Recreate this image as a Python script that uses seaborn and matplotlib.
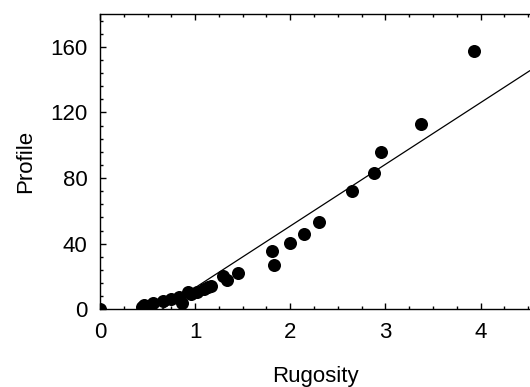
import matplotlib
matplotlib.use("Agg")
import matplotlib.pyplot as plt
from matplotlib.ticker import MultipleLocator
import numpy as np
import pandas as pd
import seaborn as sns

# Observed rugosity / profile pairs
rugosity = [0.0, 0.44, 0.46, 0.56, 0.66, 0.75, 0.83, 0.86, 0.92, 0.96,
            1.02, 1.09, 1.13, 1.17, 1.29, 1.33, 1.45, 1.81, 1.83,
            2.0, 2.14, 2.30, 2.65, 2.88, 2.95, 3.37, 3.93]
profile = [0.0, 1.5, 2.8, 3.9, 4.8, 6.2, 7.5, 3.6, 10.8, 9.4,
           10.5, 12.4, 13.4, 14.3, 20.5, 17.8, 21.9, 35.3, 26.8,
           40.2, 46.1, 53.0, 72.3, 83.0, 95.8, 113.1, 157.2]

# Fitted model curve
fit_x = [0.65, 4.52]
fit_y = [0.0, 145.5]

sns.set_style("ticks")
plt.rcParams["font.family"] = ["Liberation Sans", "DejaVu Sans"]
plt.rcParams["text.color"] = "black"
plt.rcParams["axes.labelcolor"] = "black"
plt.rcParams["xtick.color"] = "black"
plt.rcParams["ytick.color"] = "black"

obs = pd.DataFrame({"Rugosity": rugosity, "Profile": profile})
fit = pd.DataFrame({"Rugosity": fit_x, "Profile": fit_y})

fig = plt.figure(figsize=(5.30, 3.87), dpi=100)
ax = fig.add_axes([100 / 530, 77.7 / 387, 430 / 530, 295.3 / 387])

sns.lineplot(data=fit, x="Rugosity", y="Profile", ax=ax, color="black",
             linewidth=0.9, sort=True)
sns.scatterplot(data=obs, x="Rugosity", y="Profile", ax=ax, color="black",
                s=88, edgecolor="black", linewidth=0, zorder=3, clip_on=True)

ax.set_xlim(0, 4.52)
ax.set_ylim(0, 180)
ax.xaxis.set_major_locator(MultipleLocator(1))
ax.xaxis.set_minor_locator(MultipleLocator(0.25))
ax.yaxis.set_major_locator(MultipleLocator(40))
ax.yaxis.set_minor_locator(MultipleLocator(8))

ax.tick_params(which="both", direction="in", top=True, right=False,
               labelsize=16, width=1.0, color="black", labelcolor="black")
ax.tick_params(which="major", length=4)
ax.tick_params(which="minor", length=2.3)
ax.tick_params(axis="x", which="major", pad=9)
ax.tick_params(axis="y", which="major", pad=9)

for side in ("left", "bottom", "top"):
    ax.spines[side].set_linewidth(1.0)
    ax.spines[side].set_color("black")
ax.spines["right"].set_visible(False)

ax.set_xlabel("Rugosity", fontsize=16, labelpad=17)
ax.set_ylabel("Profile", fontsize=16, labelpad=10)

fig.savefig("out.png", dpi=100)
